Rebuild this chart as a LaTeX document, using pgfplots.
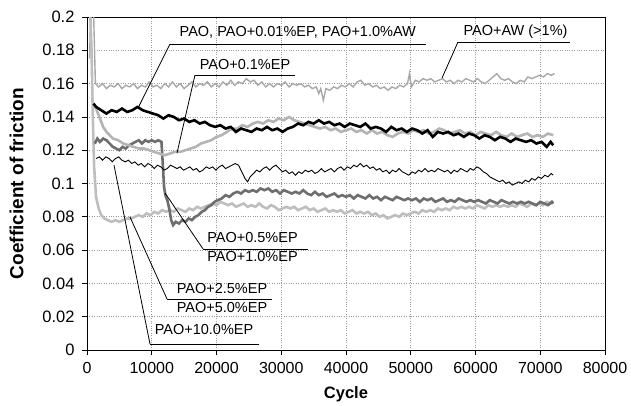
\documentclass[border=0pt]{standalone}
\usepackage{fontspec}
\setmainfont{Liberation Sans}
\usepackage{pgfplots}
\pgfplotsset{compat=1.18}

\definecolor{awgray}{HTML}{A8A8A8}
\definecolor{epone}{HTML}{B4B4B4}
\definecolor{eptwo}{HTML}{BEBEBE}
\definecolor{darkep}{HTML}{6E6E6E}

\newcommand{\anno}{\fontsize{14.5}{17}\selectfont}

\begin{document}
\begin{tikzpicture}
\begin{axis}[
    at={(0,0)}, anchor=south west,
    scale only axis,
    width=518pt, height=333pt,
    xmin=0, xmax=80000, ymin=0, ymax=0.2,
    xtick={0,10000,...,80000},
    ytick={0,0.02,...,0.2},
    scaled x ticks=false, scaled y ticks=false,
    xticklabel style={/pgf/number format/1000 sep={}, /pgf/number format/assume math mode=true,
        font=\fontsize{16}{19}\selectfont, yshift=-4pt},
    yticklabel style={/pgf/number format/fixed, /pgf/number format/precision=2,
        /pgf/number format/assume math mode=true, font=\fontsize{16.5}{19}\selectfont, xshift=-4pt},
    tick align=outside, tick pos=left, major tick length=5pt,
    tick style={black, line width=0.8pt},
    axis line style={line width=0.8pt},
    grid=major,
    major grid style={dotted, gray!80, line width=0.7pt},
    xlabel={\bfseries Cycle},
    ylabel={\bfseries Coefficient of friction},
    xlabel style={at={(axis description cs:0.5,-0.145)}, anchor=base, font=\fontsize{16.5}{19}\selectfont},
    ylabel style={at={(axis description cs:-0.136,0.5)}, anchor=center, font=\fontsize{19}{22}\selectfont},
    clip=true,
]
% PAO+AW (>1%)
\addplot[awgray, line width=1.4pt] coordinates {
(400,0.175)(700,0.225)(1000,0.205)(1300,0.160)(1800,0.158)(2400,0.160)(3000,0.157)(3600,0.159)(4200,0.158)(4800,0.160)
(5400,0.157)(6000,0.159)(6600,0.158)(7200,0.160)(7800,0.157)(8400,0.159)(9000,0.158)(9600,0.161)(10200,0.158)(10800,0.159)
(11400,0.157)(12000,0.160)(12600,0.158)(13200,0.161)(13800,0.158)(14400,0.160)(15000,0.157)(15600,0.159)(16200,0.161)(16800,0.158)
(17400,0.160)(18000,0.159)(18600,0.161)(19200,0.158)(19800,0.160)(20400,0.158)(21000,0.161)(21600,0.159)(22200,0.162)(22800,0.159)
(23400,0.161)(24000,0.160)(24600,0.163)(25200,0.161)(25800,0.162)(26400,0.159)(27000,0.161)(27600,0.158)(28200,0.160)(28800,0.158)
(29400,0.160)(30000,0.159)(30600,0.161)(31200,0.158)(31800,0.160)(32400,0.159)(33000,0.160)(33600,0.158)(34200,0.159)(34800,0.157)
(35400,0.158)(35800,0.154)(36100,0.157)(36500,0.150)(36900,0.157)(37500,0.156)(38100,0.158)(38700,0.157)(39300,0.159)(39900,0.158)
(40500,0.160)(41100,0.158)(41700,0.161)(42300,0.162)(42900,0.159)(43500,0.160)(44100,0.158)(44700,0.159)(45300,0.157)(45900,0.158)
(46500,0.156)(47100,0.158)(47700,0.157)(48300,0.159)(48900,0.158)(49500,0.160)(49800,0.166)(50100,0.158)(50700,0.162)(51300,0.161)
(51900,0.163)(52500,0.162)(53100,0.163)(53700,0.161)(54300,0.162)(54900,0.163)(55500,0.161)(56100,0.162)(56700,0.160)(57300,0.162)
(57900,0.161)(58500,0.163)(59100,0.162)(59700,0.161)(60300,0.163)(60900,0.161)(61500,0.160)(62100,0.162)(62700,0.164)(63300,0.166)
(63900,0.163)(64500,0.162)(65100,0.163)(65700,0.161)(66300,0.160)(66900,0.162)(67500,0.161)(68100,0.164)(68700,0.163)(69300,0.164)
(69900,0.165)(70500,0.164)(71100,0.166)(71700,0.165)(72200,0.166)
};
% PAO+2.5%EP, PAO+5.0%EP
\addplot[eptwo, line width=2.6pt] coordinates {
(400,0.215)(700,0.180)(900,0.140)(1100,0.110)(1400,0.092)(1800,0.085)(2200,0.081)(2700,0.079)(3200,0.078)(3800,0.077)
(4400,0.078)(5000,0.077)(5600,0.078)(6200,0.079)(6800,0.079)(7400,0.080)(8000,0.081)(8600,0.080)(9200,0.082)(9800,0.081)
(10400,0.083)(11000,0.082)(11600,0.084)(12200,0.083)(12800,0.084)(13400,0.083)(14000,0.085)(14600,0.084)(15200,0.083)(15800,0.085)
(16400,0.084)(17000,0.086)(17600,0.085)(18200,0.086)(18800,0.087)(19400,0.088)(20000,0.087)(20600,0.089)(21200,0.088)(21800,0.087)
(22400,0.088)(23000,0.086)(23600,0.087)(24200,0.088)(24800,0.086)(25400,0.087)(26000,0.086)(26600,0.088)(27200,0.086)(27800,0.085)
(28400,0.087)(29000,0.086)(29600,0.084)(30200,0.085)(30800,0.086)(31400,0.085)(32000,0.086)(32600,0.084)(33200,0.085)(33800,0.086)
(34400,0.084)(35000,0.085)(35600,0.083)(36200,0.084)(36800,0.085)(37400,0.083)(38000,0.084)(38600,0.083)(39200,0.084)(39800,0.082)
(40400,0.083)(41000,0.084)(41600,0.082)(42200,0.083)(42800,0.082)(43400,0.083)(44000,0.081)(44600,0.082)(45200,0.080)(45800,0.081)
(46400,0.079)(47000,0.080)(47600,0.081)(48200,0.080)(48800,0.082)(49400,0.081)(50000,0.082)(50600,0.083)(51200,0.082)(51800,0.084)
(52400,0.083)(53000,0.084)(53600,0.083)(54200,0.085)(54800,0.084)(55400,0.085)(56000,0.084)(56600,0.086)(57200,0.085)(57800,0.086)
(58400,0.085)(59000,0.086)(59600,0.085)(60200,0.087)(60800,0.086)(61400,0.085)(62000,0.087)(62600,0.086)(63200,0.087)(63800,0.086)
(64400,0.087)(65000,0.086)(65600,0.087)(66200,0.086)(66800,0.088)(67400,0.087)(68000,0.086)(68600,0.088)(69200,0.087)(69800,0.088)
(70400,0.087)(71000,0.089)(71600,0.088)(72000,0.089)
};
% PAO+0.5%EP, PAO+1.0%EP
\addplot[darkep, line width=2.6pt] coordinates {
(1200,0.124)(1600,0.127)(2000,0.125)(2500,0.127)(3000,0.126)(3500,0.124)(4000,0.122)(4500,0.121)(5000,0.120)(5500,0.122)
(6000,0.121)(6500,0.123)(7000,0.124)(7500,0.125)(8000,0.126)(8500,0.124)(9000,0.126)(9500,0.125)(10000,0.126)(10500,0.125)
(11000,0.126)(11500,0.125)(11700,0.112)(11900,0.098)(12100,0.093)(12400,0.090)(12700,0.085)(13000,0.078)(13300,0.075)(13700,0.077)
(14200,0.076)(14700,0.078)(15200,0.077)(15700,0.079)(16200,0.078)(16700,0.080)(17200,0.081)(17700,0.083)(18200,0.084)(18700,0.086)
(19200,0.087)(19700,0.089)(20200,0.090)(20800,0.091)(21400,0.093)(22000,0.092)(22600,0.094)(23200,0.095)(23800,0.094)(24400,0.096)
(25000,0.095)(25600,0.096)(26200,0.095)(26800,0.097)(27400,0.096)(28000,0.097)(28600,0.095)(29200,0.096)(29800,0.094)(30400,0.096)
(31000,0.095)(31600,0.094)(32200,0.095)(32800,0.094)(33400,0.096)(34000,0.094)(34600,0.093)(35200,0.095)(35800,0.093)(36400,0.094)
(37000,0.092)(37600,0.093)(38200,0.094)(38800,0.092)(39400,0.093)(40000,0.092)(40600,0.093)(41200,0.091)(41800,0.093)(42400,0.092)
(43000,0.091)(43600,0.093)(44200,0.091)(44800,0.092)(45400,0.090)(46000,0.092)(46600,0.091)(47200,0.090)(47800,0.092)(48400,0.091)
(49000,0.090)(49600,0.091)(50200,0.090)(50800,0.091)(51400,0.089)(52000,0.091)(52600,0.090)(53200,0.091)(53800,0.089)(54400,0.090)
(55000,0.091)(55600,0.089)(56200,0.090)(56800,0.089)(57400,0.091)(58000,0.090)(58600,0.089)(59200,0.090)(59800,0.089)(60400,0.090)
(61000,0.089)(61600,0.088)(62200,0.090)(62800,0.089)(63400,0.088)(64000,0.090)(64600,0.089)(65200,0.088)(65800,0.089)(66400,0.088)
(67000,0.089)(67600,0.088)(68200,0.089)(68800,0.088)(69400,0.087)(70000,0.089)(70600,0.088)(71200,0.087)(71800,0.089)(72000,0.088)
};
% PAO+10.0%EP
\addplot[black, line width=0.9pt] coordinates {
(1400,0.115)(1900,0.116)(2400,0.114)(2900,0.116)(3400,0.115)(3900,0.113)(4400,0.115)(4900,0.116)(5400,0.114)(5900,0.113)
(6400,0.114)(6900,0.112)(7400,0.113)(7900,0.111)(8400,0.112)(8900,0.110)(9400,0.112)(9900,0.111)(10400,0.109)(10900,0.111)
(11400,0.110)(11900,0.108)(12400,0.109)(12900,0.111)(13400,0.110)(13900,0.109)(14400,0.110)(14900,0.108)(15400,0.109)(15900,0.110)
(16400,0.108)(16900,0.109)(17400,0.107)(17900,0.108)(18400,0.110)(18900,0.109)(19400,0.110)(19900,0.108)(20400,0.110)(20900,0.111)
(21400,0.109)(21900,0.110)(22400,0.111)(22900,0.112)(23400,0.111)(23900,0.107)(24400,0.103)(24800,0.101)(25200,0.104)(25700,0.106)
(26200,0.108)(26700,0.107)(27200,0.109)(27700,0.110)(28200,0.108)(28700,0.110)(29200,0.111)(29700,0.109)(30200,0.107)(30700,0.108)
(31200,0.106)(31700,0.107)(32200,0.105)(32700,0.107)(33200,0.106)(33700,0.108)(34200,0.107)(34700,0.108)(35200,0.106)(35700,0.107)
(36200,0.109)(36700,0.107)(37200,0.108)(37700,0.109)(38200,0.107)(38700,0.109)(39200,0.110)(39700,0.108)(40200,0.110)(40700,0.109)
(41200,0.111)(41700,0.110)(42200,0.112)(42700,0.110)(43200,0.111)(43700,0.109)(44200,0.110)(44700,0.108)(45200,0.109)(45700,0.107)
(46200,0.108)(46700,0.106)(47200,0.108)(47700,0.107)(48200,0.109)(48700,0.107)(49200,0.106)(49700,0.105)(50200,0.107)(50700,0.106)
(51200,0.108)(51700,0.107)(52200,0.109)(52700,0.107)(53200,0.108)(53700,0.107)(54200,0.109)(54700,0.108)(55200,0.107)(55700,0.108)
(56200,0.106)(56700,0.108)(57200,0.107)(57700,0.109)(58200,0.108)(58700,0.107)(59200,0.109)(59700,0.108)(60200,0.110)(60700,0.109)
(61200,0.107)(61700,0.106)(62200,0.104)(62700,0.103)(63200,0.102)(63700,0.101)(64200,0.102)(64700,0.100)(65200,0.101)(65700,0.099)
(66200,0.100)(66700,0.101)(67200,0.100)(67700,0.102)(68200,0.101)(68700,0.103)(69200,0.102)(69700,0.104)(70200,0.103)(70700,0.105)
(71200,0.104)(71700,0.106)(72000,0.105)
};
% PAO+0.1%EP
\addplot[epone, line width=2.6pt] coordinates {
(1000,0.148)(1500,0.144)(2000,0.139)(2500,0.134)(3000,0.131)(3500,0.129)(4000,0.127)(4800,0.126)(5600,0.124)(6400,0.123)
(7200,0.122)(8000,0.121)(8800,0.121)(9600,0.120)(10400,0.119)(11200,0.118)(12000,0.117)(12800,0.118)(13600,0.119)(14400,0.119)
(15200,0.120)(16000,0.121)(16800,0.122)(17600,0.124)(18400,0.125)(19200,0.126)(20000,0.128)(20800,0.129)(21600,0.131)(22400,0.133)
(23200,0.133)(24000,0.135)(24800,0.134)(25600,0.136)(26400,0.137)(27200,0.136)(28000,0.138)(28800,0.137)(29600,0.139)(30400,0.138)
(31200,0.140)(32000,0.138)(32800,0.137)(33600,0.136)(34400,0.135)(35200,0.134)(36000,0.133)(36800,0.134)(37600,0.132)(38400,0.133)
(39200,0.131)(40000,0.132)(40800,0.133)(41600,0.131)(42400,0.132)(43200,0.130)(44000,0.132)(44800,0.130)(45600,0.131)(46400,0.129)
(47200,0.128)(48000,0.130)(48800,0.131)(49600,0.130)(50400,0.132)(51200,0.131)(52000,0.132)(52800,0.130)(53600,0.131)(54400,0.133)
(55200,0.132)(56000,0.130)(56800,0.131)(57600,0.132)(58400,0.130)(59200,0.131)(60000,0.129)(60800,0.131)(61600,0.130)(62400,0.129)
(63200,0.131)(64000,0.129)(64800,0.128)(65600,0.130)(66400,0.128)(67200,0.129)(68000,0.130)(68800,0.128)(69600,0.129)(70400,0.128)
(71200,0.130)(72000,0.129)
};
% PAO, PAO+0.01%EP, PAO+1.0%AW
\addplot[black, line width=2.6pt] coordinates {
(1000,0.148)(1400,0.146)(2200,0.144)(3000,0.142)(3800,0.144)(4600,0.143)(5400,0.145)(6200,0.143)(7000,0.144)(7800,0.146)
(8600,0.144)(9400,0.143)(10200,0.142)(11000,0.141)(11800,0.139)(12600,0.141)(13400,0.140)(14200,0.138)(15000,0.139)(15800,0.137)
(16600,0.138)(17400,0.136)(18200,0.137)(19000,0.135)(19800,0.134)(20600,0.135)(21400,0.133)(22200,0.134)(23000,0.131)(23800,0.133)
(24600,0.132)(25400,0.131)(26200,0.133)(27000,0.132)(27800,0.134)(28600,0.132)(29400,0.133)(30200,0.131)(31000,0.133)(31800,0.134)
(32600,0.136)(33400,0.135)(34200,0.137)(35000,0.136)(35800,0.138)(36600,0.136)(37400,0.137)(38200,0.135)(39000,0.136)(39800,0.134)
(40600,0.136)(41400,0.135)(42200,0.134)(43000,0.136)(43800,0.133)(44600,0.134)(45400,0.133)(46200,0.131)(47000,0.134)(47800,0.132)
(48600,0.133)(49400,0.131)(50200,0.133)(51000,0.132)(51800,0.130)(52600,0.132)(53400,0.128)(54200,0.131)(55000,0.130)(55800,0.131)
(56600,0.129)(57400,0.130)(58200,0.128)(59000,0.130)(59800,0.129)(60600,0.127)(61400,0.129)(62200,0.128)(63000,0.126)(63800,0.128)
(64600,0.127)(65400,0.125)(66200,0.127)(67000,0.126)(67800,0.125)(68600,0.126)(69400,0.124)(70200,0.125)(71000,0.122)(71600,0.125)
(72000,0.123)
};

% annotations
\draw[black, line width=0.8pt] (axis cs:12820,0.1838) -- (axis cs:52280,0.1838);
\draw[black, line width=0.8pt] (axis cs:12820,0.1838) -- (axis cs:7880,0.1453);
\node[anchor=base, inner sep=0pt, font=\anno] at (axis cs:32550,0.1880) {PAO, PAO+0.01\%EP, PAO+1.0\%AW};

\draw[black, line width=0.8pt] (axis cs:16680,0.1652) -- (axis cs:32120,0.1652);
\draw[black, line width=0.8pt] (axis cs:16680,0.1652) -- (axis cs:13900,0.1183);
\node[anchor=base, inner sep=0pt, font=\anno] at (axis cs:24400,0.1682) {PAO+0.1\%EP};

\draw[black, line width=0.8pt] (axis cs:57300,0.1850) -- (axis cs:74590,0.1850);
\draw[black, line width=0.8pt] (axis cs:57300,0.1850) -- (axis cs:54830,0.1634);
\node[anchor=base, inner sep=0pt, font=\anno] at (axis cs:66180,0.1886) {PAO+AW (>1\%)};

\draw[black, line width=0.8pt] (axis cs:17920,0.0607) -- (axis cs:34130,0.0607);
\draw[black, line width=0.8pt] (axis cs:17920,0.0607) -- (axis cs:12050,0.0943);
\node[anchor=base, inner sep=0pt, font=\anno] at (axis cs:25560,0.0643) {PAO+0.5\%EP};
\node[anchor=base, inner sep=0pt, font=\anno] at (axis cs:25560,0.0529) {PAO+1.0\%EP};

\draw[black, line width=0.8pt] (axis cs:12360,0.0306) -- (axis cs:28570,0.0306);
\draw[black, line width=0.8pt] (axis cs:12360,0.0306) -- (axis cs:6640,0.0799);
\node[anchor=base, inner sep=0pt, font=\anno] at (axis cs:20850,0.0342) {PAO+2.5\%EP};
\node[anchor=base, inner sep=0pt, font=\anno] at (axis cs:20850,0.0228) {PAO+5.0\%EP};

\draw[black, line width=0.8pt] (axis cs:9730,0.0036) -- (axis cs:26560,0.0036);
\draw[black, line width=0.8pt] (axis cs:9730,0.0036) -- (axis cs:4170,0.1110);
\node[anchor=base, inner sep=0pt, font=\anno] at (axis cs:18070,0.0096) {PAO+10.0\%EP};
\end{axis}
\pgfresetboundingbox
\path[use as bounding box] (-87pt,-55pt) rectangle (544pt,350pt);
\end{tikzpicture}
\end{document}
